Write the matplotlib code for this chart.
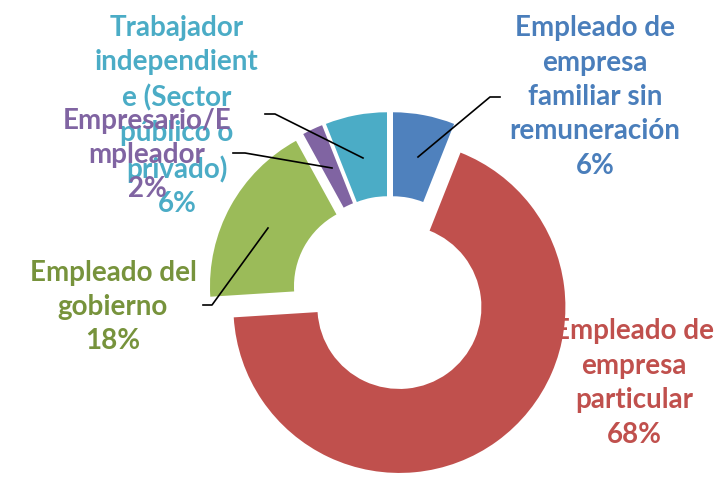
import matplotlib
matplotlib.use("Agg")
import matplotlib.pyplot as plt

# datos
categorias = ["Empleado de\nempresa\nfamiliar sin\nremuneración",
              "Empleado de\nempresa\nparticular",
              "Empleado del\ngobierno",
              "Empresario/E\nmpleador",
              "Trabajador\nindependient\ne (Sector\npúblico o\nprivado)"]
porcentajes = [6, 68, 18, 2, 6]
colores = ["#4F81BD", "#C0504D", "#9BBB59", "#8064A2", "#4BACC6"]
colores_txt = ["#4A7EBB", "#C0504D", "#77933C", "#8064A2", "#4BACC6"]

W, H = 722, 479
fig = plt.figure(figsize=(W / 100, H / 100), dpi=100)
ax = fig.add_axes([0, 0, 1, 1])

R = 166
ancho = 84
cx, cy = 390, H - 294
wedges, _ = ax.pie(porcentajes, colors=colores, startangle=90, counterclock=False,
                   radius=R, center=(cx, cy), explode=[16] * 5,
                   wedgeprops=dict(width=ancho, linewidth=0, zorder=2),
                   frame=True)
ax.set_xlim(0, W)
ax.set_ylim(0, H)
ax.set_aspect("equal")
ax.axis("off")

# posiciones de las etiquetas (pixeles desde arriba)
pos_txt = [(595, 97), (634, 383), (113, 307), (147, 155), (177, 116)]
z_txt = [3, 1, 3, 4, 3]
for cat, p, (x, y), c, z in zip(categorias, porcentajes, pos_txt, colores_txt, z_txt):
    ax.text(x, H - y, f"{cat}\n{p}%", color=c, ha="center", va="center",
            multialignment="center", fontsize=20, fontweight="bold",
            family="Lato", linespacing=1.4, zorder=z)

# líneas guía
guias = [[(500, 97), (490, 97), (418, 157)],
         [(203, 305), (212, 305), (268, 228)],
         [(233, 153), (245, 153), (332, 168)],
         [(265, 114), (275, 114), (363, 158)]]
for g in guias:
    xs = [p[0] for p in g]
    ys = [H - p[1] for p in g]
    ax.plot(xs, ys, color="black", lw=1.2, zorder=6)

fig.savefig("out.png", dpi=100)
